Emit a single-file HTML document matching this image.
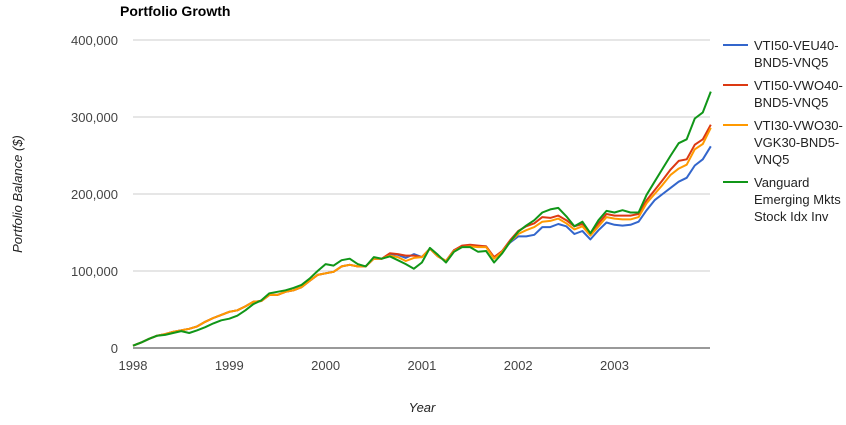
<!DOCTYPE html>
<html><head><meta charset="utf-8">
<style>
body{margin:0;background:#fff;width:846px;height:420px;overflow:hidden;font-family:"Liberation Sans",sans-serif}
svg text{font-family:"Liberation Sans",sans-serif}
</style></head>
<body>
<svg id="chart" width="846" height="420">
<text x="120" y="16" font-size="14" font-weight="bold" fill="#000">Portfolio Growth</text>
<g id="grid"></g><g id="yticks"></g><g id="xticks"></g><g id="series"></g>
<text transform="translate(22,194) rotate(-90)" text-anchor="middle" font-size="13" font-style="italic" fill="#222">Portfolio Balance ($)</text>
<text x="422" y="412" text-anchor="middle" font-size="13" font-style="italic" fill="#222">Year</text>
<g id="legend"></g>
</svg>
<script>
const seriesNames=["VTI50-VEU40-BND5-VNQ5","VTI50-VWO40-BND5-VNQ5","VTI30-VWO30-VGK30-BND5-VNQ5","Vanguard Emerging Mkts Stock Idx Inv"];
const seriesColors=["#3366cc","#dc3912","#ff9900","#109618"];
const yTicks=[0,100000,200000,300000,400000];
const yTickLabels=["0","100,000","200,000","300,000","400,000"];
const xTickLabels=["1998","1999","2000","2001","2002","2003"];
const blue=[3,7,12,16,18,21,23,25,28,34,39,43,47,49,54,60,61,69,69,73,75,79,87,95,97,99,106,108,106,106,116,116,122,121,117,122,118,129,119,113,127,132,133,132,132,117,126,137,145,145,147,157,157,161,158,148,152,141,153,163,160,159,160,164,179,192,200,208,216,221,237,245,262];
const red=[3,7,12,16,18,21,23,25,28,34,39,43,47,49,54,60,61,69,69,73,75,79,87,95,97,99,106,108,106,106,116,116,123,122,120,120,118,129,119,113,127,133,134,133,132,118,126,140,152,158,162,170,169,172,166,158,161,149,162,174,172,172,172,174,192,205,218,232,243,245,264,271,290];
const orange=[3,7,12,16,18,21,23,25,28,34,39,43,47,49,54,60,61,69,69,73,75,79,87,95,97,99,106,108,106,106,116,116,120,118,113,117,118,129,119,113,126,131,132,131,131,116,125,138,148,153,157,164,165,168,162,154,158,146,158,170,168,167,167,170,188,200,212,225,233,238,258,265,286];
const green=[3,7,12,16,17,19.5,22,19.5,23,27,32,36,38,42,49,57,62,71,73,75,78,82,90,100,109,107,114,116,109,106,118,116,119,114,109,103,111,130,121,111,125,131,131,125,126,111,123,138,151,159,166,176,180,182,171,158,164,149,166,178,176,179,176,176,199,216,233,250,266,271,298,306,333];
const allSeries=[blue,red,orange,green];
const NS="http://www.w3.org/2000/svg";
const x0=133,yearW=96.3,y0=348,yTop=40,yMax=400000;
const xScale=i=>x0+i*yearW/12;
const yScale=v=>y0-(v/yMax)*(y0-yTop);
function mk(tag,attrs,parent){const e=document.createElementNS(NS,tag);for(const k in attrs)e.setAttribute(k,attrs[k]);parent.appendChild(e);return e;}
const grid=document.getElementById('grid'),yt=document.getElementById('yticks'),xt=document.getElementById('xticks');
yTicks.forEach((v,i)=>{
  const y=yScale(v);
  const l=mk('line',{x1:x0,x2:710,y1:y,y2:y,stroke:i==0?'#333':'#ccc','stroke-width':1},grid);
  
  
  const t=mk('text',{x:118,y:y+5,'text-anchor':'end','font-size':13,fill:'#444'},yt);
  t.textContent=yTickLabels[i];
  
  
});
xTickLabels.forEach((lab,i)=>{
  const t=mk('text',{x:x0+i*yearW,y:370,'text-anchor':'middle','font-size':13,fill:'#444'},xt);
  t.textContent=lab;
  
  
});
const sg=document.getElementById('series');
allSeries.forEach((arr,s)=>{
  const pts=arr.map((v,i)=>xScale(i).toFixed(1)+','+yScale(v*1000).toFixed(1)).join(' ');
  const p=mk('polyline',{points:pts,fill:'none',stroke:seriesColors[s],'stroke-width':2,'stroke-linejoin':'round'},sg);
  
  
});
const legendLines=[["VTI50-VEU40-","BND5-VNQ5"],["VTI50-VWO40-","BND5-VNQ5"],["VTI30-VWO30-","VGK30-BND5-","VNQ5"],["Vanguard","Emerging Mkts","Stock Idx Inv"]];
const lg=document.getElementById('legend');
let ly=45;
legendLines.forEach((lines,s)=>{
  const g=mk('g',{},lg);
  
  
  mk('line',{x1:723,x2:748,y1:ly,y2:ly,stroke:seriesColors[s],'stroke-width':2},g);
  lines.forEach((tx,j)=>{const t=mk('text',{x:754,y:ly+5+j*17,'font-size':13,fill:'#222'},g);t.textContent=tx;});
  ly+=lines.length*17+6;
});
</script>
</body></html>
